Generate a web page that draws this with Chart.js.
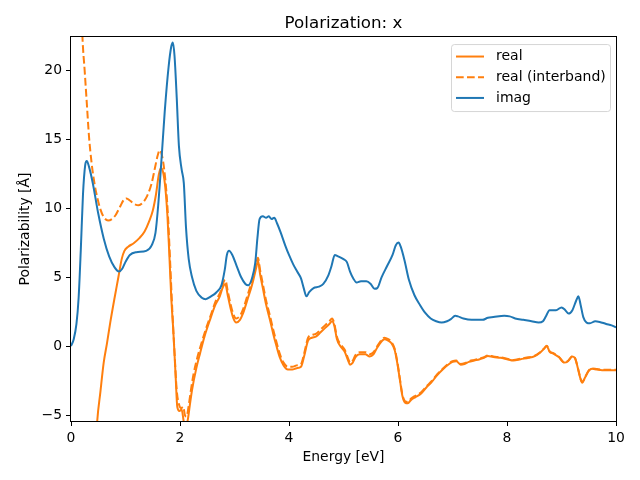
<!DOCTYPE html>
<html>
<head>
<meta charset="utf-8">
<script src="https://cdn.jsdelivr.net/npm/chart.js@4.4.0/dist/chart.umd.min.js"></script>
<style>
  html, body { margin: 0; padding: 0; background: #fff; }
  #chart { display: block; }
</style>
</head>
<body>
<canvas id="chart" width="640" height="480"></canvas>
<script>
// --- Data ---
const xTicks = [0, 2, 4, 6, 8, 10];
const yTicks = [-5, 0, 5, 10, 15, 20];

const imagX = [0.00,0.05,0.10,0.14,0.18,0.22,0.26,0.29,0.33,0.40,0.50,0.60,0.70,0.80,0.88,0.94,1.00,1.08,1.20,1.38,
  1.48,1.55,1.60,1.66,1.72,1.79,1.84,1.87,1.90,1.94,1.98,2.03,2.07,2.11,2.16,2.22,2.30,2.40,2.47,2.57,
  2.67,2.76,2.82,2.86,2.90,2.96,3.04,3.12,3.20,3.25,3.32,3.38,3.42,3.46,3.52,3.58,3.63,3.68,3.73,3.78,
  3.85,3.93,4.00,4.08,4.15,4.22,4.27,4.32,4.37,4.45,4.55,4.63,4.72,4.78,4.84,4.90,5.00,5.06,5.12,5.18,
  5.24,5.32,5.42,5.50,5.57,5.62,5.70,5.80,5.90,5.96,6.01,6.05,6.12,6.20,6.30,6.40,6.50,6.60,6.70,6.80,
  6.90,6.97,7.05,7.10,7.20,7.35,7.55,7.65,7.75,7.95,8.05,8.15,8.30,8.45,8.58,8.66,8.72,8.78,8.90,9.00,
  9.07,9.13,9.20,9.27,9.31,9.35,9.40,9.46,9.52,9.62,9.70,9.82,9.92,10.0];
const imagY = [0.0,0.5,1.6,3.5,7.0,11.0,13.1,13.4,13.0,11.8,9.6,7.8,6.5,5.7,5.4,5.6,6.1,6.6,6.8,6.9,
  7.3,8.2,10.2,13.5,17.0,20.2,21.7,22.0,21.0,18.0,14.5,12.8,11.8,8.6,6.3,5.0,4.0,3.5,3.4,3.6,
  3.9,4.4,5.5,6.6,6.9,6.6,5.8,5.0,4.5,4.4,4.9,6.0,7.8,9.2,9.4,9.3,9.4,9.2,9.3,8.9,
  8.2,7.3,6.6,5.9,5.4,4.9,4.2,3.6,3.9,4.2,4.3,4.5,5.1,5.8,6.6,6.5,6.3,6.1,5.4,4.9,
  4.6,4.7,4.7,4.5,4.15,4.2,5.0,5.8,6.6,7.3,7.5,7.2,6.2,4.8,3.7,3.0,2.4,2.0,1.8,1.7,
  1.8,1.95,2.2,2.15,2.0,1.9,1.9,2.05,2.1,2.2,2.15,2.0,1.9,1.8,1.7,1.8,2.2,2.6,2.6,2.8,
  2.6,2.35,2.6,3.3,3.6,3.0,2.1,1.7,1.65,1.8,1.75,1.6,1.5,1.35];

const realX = [0.44,0.48,0.54,0.60,0.66,0.72,0.80,0.87,0.93,0.98,1.05,1.15,1.25,1.35,1.43,1.50,1.56,1.61,1.65,1.69,
  1.73,1.77,1.80,1.84,1.88,1.92,1.95,1.99,2.03,2.07,2.10,2.14,2.18,2.22,2.30,2.37,2.45,2.55,2.65,2.73,
  2.79,2.83,2.88,2.93,2.98,3.03,3.10,3.16,3.24,3.32,3.40,3.43,3.47,3.52,3.58,3.65,3.71,3.77,3.83,3.90,
  3.98,4.06,4.14,4.22,4.28,4.35,4.42,4.50,4.58,4.66,4.74,4.79,4.83,4.88,4.94,5.02,5.08,5.12,5.17,5.22,
  5.30,5.40,5.48,5.55,5.62,5.70,5.75,5.82,5.88,5.94,5.99,6.04,6.08,6.13,6.18,6.24,6.32,6.42,6.52,6.62,
  6.72,6.82,6.92,7.00,7.07,7.15,7.22,7.30,7.40,7.50,7.58,7.65,7.75,7.88,8.00,8.12,8.25,8.40,8.50,8.60,
  8.68,8.73,8.78,8.85,8.95,9.05,9.12,9.20,9.25,9.30,9.35,9.38,9.43,9.50,9.56,9.65,9.80,10.0];
const realY = [-8.5,-5.5,-3.3,-1.2,0.2,1.7,3.5,5.0,6.3,6.9,7.2,7.45,7.8,8.3,9.0,9.8,11.0,12.4,12.9,12.6,
  11.5,9.4,7.0,3.5,0.9,-2.2,-4.4,-4.7,-4.6,-5.5,-5.8,-5.4,-4.3,-3.2,-1.6,-0.5,0.7,1.9,3.0,3.6,
  4.3,4.5,3.6,2.7,2.0,1.7,1.9,2.4,3.4,4.4,5.7,6.2,5.2,4.2,3.0,1.9,0.9,0.0,-0.8,-1.4,
  -1.7,-1.7,-1.6,-1.5,-0.7,0.4,0.6,0.7,1.0,1.3,1.6,1.8,1.5,0.5,0.0,-0.4,-1.0,-1.35,-1.2,-0.8,
  -0.6,-0.6,-0.75,-0.6,-0.1,0.35,0.5,0.4,0.2,-0.3,-1.3,-2.6,-3.6,-4.1,-4.15,-3.9,-3.7,-3.45,-3.0,-2.6,
  -2.1,-1.7,-1.35,-1.15,-1.1,-1.35,-1.3,-1.15,-1.05,-0.95,-0.85,-0.72,-0.8,-0.85,-0.95,-1.05,-0.95,-0.85,-0.75,-0.5,
  -0.2,0.0,-0.4,-0.55,-0.8,-1.2,-1.1,-0.75,-0.9,-1.6,-2.4,-2.65,-2.3,-1.8,-1.65,-1.7,-1.75,-1.75];

const interX = [0.19,0.21,0.25,0.29,0.33,0.38,0.43,0.48,0.54,0.60,0.68,0.75,0.82,0.90,0.97,1.02,1.08,1.16,1.24,1.32,
  1.40,1.48,1.54,1.59,1.63,1.67,1.71,1.75,1.78,1.82,1.86,1.90,1.94,1.98,2.02,2.06,2.09,2.12,2.16,2.20,
  2.25,2.32,2.40,2.48,2.57,2.66,2.74,2.79,2.83,2.88,2.93,2.98,3.03,3.10,3.16,3.24,3.32,3.40,3.43,3.47,
  3.52,3.58,3.65,3.71,3.77,3.83,3.90,3.98,4.06,4.14,4.22,4.28,4.35,4.42,4.50,4.58,4.66,4.74,4.79,4.83,
  4.88,4.94,5.02,5.08,5.12,5.17,5.22,5.30,5.40,5.48,5.55,5.62,5.70,5.75,5.82,5.88,5.94,5.99,6.04,6.08,
  6.13,6.18,6.24,6.32,6.42,6.52,6.62,6.72,6.82,6.92,7.00,7.07,7.15,7.22,7.30,7.40,7.50,7.58,7.65,7.75,
  7.88,8.00,8.12,8.25,8.40,8.50,8.60,8.68,8.73,8.78,8.85,8.95,9.05,9.12,9.20,9.25,9.30,9.35,9.38,9.43,
  9.50,9.56,9.65,9.80,10.0];
const interY = [25.0,22.4,20.0,17.6,15.2,13.2,11.8,10.8,9.9,9.35,9.1,9.2,9.5,10.1,10.6,10.7,10.55,10.3,10.2,10.4,
  10.9,11.8,12.9,13.8,14.2,13.8,12.8,11.2,9.4,6.0,2.5,-0.5,-3.2,-4.2,-4.5,-4.4,-5.0,-5.1,-4.3,-3.2,
  -2.0,-0.8,0.3,1.3,2.3,3.3,3.9,4.55,4.8,3.9,3.0,2.3,2.0,2.2,2.7,3.7,4.7,6.0,6.4,5.5,
  4.5,3.3,2.2,1.2,0.3,-0.55,-1.2,-1.5,-1.5,-1.4,-1.3,-0.5,0.6,0.8,0.9,1.2,1.5,1.8,2.0,1.65,
  0.65,0.15,-0.25,-0.85,-1.2,-1.05,-0.65,-0.45,-0.45,-0.6,-0.45,0.0,0.45,0.6,0.5,0.3,-0.2,-1.2,-2.5,-3.5,
  -4.0,-4.05,-3.8,-3.6,-3.37,-2.93,-2.53,-2.04,-1.65,-1.3,-1.1,-1.05,-1.3,-1.25,-1.1,-1.0,-0.9,-0.8,-0.68,-0.76,
  -0.81,-0.91,-1.01,-0.91,-0.81,-0.72,-0.47,-0.17,0.03,-0.37,-0.52,-0.77,-1.17,-1.07,-0.72,-0.87,-1.57,-2.37,-2.62,-2.27,
  -1.77,-1.62,-1.67,-1.72,-1.72];

const ORANGE = "#ff7f0e";
const BLUE = "#1f77b4";
const FONT = "'DejaVu Sans', sans-serif";

const toPoints = (xs, ys) => xs.map((x, i) => ({ x: x, y: ys[i] }));
// matplotlib writes negatives with a real minus sign
const tickText = (v) => String(v).replace("-", "\u2212");

// --- Plugins ---
// centre the title over the axes instead of the whole canvas
const titleOverAxes = {
  id: "titleOverAxes",
  afterLayout(chart) {
    const t = chart.titleBlock, a = chart.chartArea;
    if (!t) return;
    t.left = a.left;
    t.right = a.right;
    t.width = a.right - a.left;
  }
};

// box round the axes, like matplotlib spines
const frame = {
  id: "frame",
  afterDatasetsDraw(chart) {
    const a = chart.chartArea, c = chart.ctx;
    c.save();
    c.strokeStyle = "#000";
    c.lineWidth = 1;
    c.strokeRect(Math.round(a.left) - 0.5, Math.round(a.top) - 0.5,
      Math.round(a.right - a.left) + 1, Math.round(a.bottom - a.top) + 1);
    c.restore();
  }
};

// legend drawn inside the axes, top right
const innerLegend = {
  id: "innerLegend",
  afterDraw(chart) {
    const c = chart.ctx, a = chart.chartArea;
    const items = [
      { label: "real", color: ORANGE, dash: [] },
      { label: "real (interband)", color: ORANGE, dash: [7.7, 3.3] },
      { label: "imag", color: BLUE, dash: [] }
    ];
    const w = 159, h = 67;
    const x0 = a.right - 6 - w, y0 = a.top + 7;
    c.save();
    c.beginPath();
    c.roundRect(x0 + 0.5, y0 + 0.5, w, h, 3);
    c.fillStyle = "rgba(255,255,255,0.8)";
    c.fill();
    c.strokeStyle = "rgba(204,204,204,0.8)";
    c.lineWidth = 1;
    c.stroke();
    c.font = "14px " + FONT;
    c.textBaseline = "middle";
    c.fillStyle = "#000";
    items.forEach((it, i) => {
      const y = y0 + 12.5 + i * 20.7;
      c.beginPath();
      c.setLineDash(it.dash);
      c.strokeStyle = it.color;
      c.lineWidth = 2;
      c.moveTo(x0 + 5, y);
      c.lineTo(x0 + 33, y);
      c.stroke();
      c.setLineDash([]);
      c.fillText(it.label, x0 + 45, y);
    });
    c.restore();
  }
};

const lineBase = {
  borderWidth: 2,
  pointRadius: 0,
  fill: false,
  cubicInterpolationMode: "monotone",
  clip: 0
};

new Chart(document.getElementById("chart"), {
  type: "line",
  data: {
    datasets: [
      Object.assign({ label: "real", data: toPoints(realX, realY), borderColor: ORANGE, order: 3 }, lineBase),
      Object.assign({ label: "real (interband)", data: toPoints(interX, interY), borderColor: ORANGE,
        borderDash: [7.7, 3.3], order: 2 }, lineBase),
      Object.assign({ label: "imag", data: toPoints(imagX, imagY), borderColor: BLUE, order: 1 }, lineBase)
    ]
  },
  options: {
    responsive: false,
    animation: false,
    devicePixelRatio: 1,
    layout: { padding: { left: 0, right: 24, top: 0, bottom: 0 } },
    plugins: {
      legend: { display: false },
      tooltip: { enabled: false },
      title: {
        display: true,
        text: "Polarization: x",
        color: "#000",
        font: { family: FONT, size: 16.7, weight: "normal" },
        padding: { top: 14, bottom: 3 }
      }
    },
    scales: {
      x: {
        type: "linear",
        min: 0,
        max: 10,
        afterFit: (s) => { s.height = 59; },
        afterBuildTicks: (s) => { s.ticks = xTicks.map(v => ({ value: v })); },
        border: { display: false },
        grid: { drawOnChartArea: false, drawTicks: true, tickLength: 5, color: "#000", lineWidth: 1 },
        ticks: { color: "#000", font: { family: FONT, size: 13.9 }, padding: 4, maxRotation: 0, callback: tickText },
        title: { display: true, text: "Energy [eV]", color: "#000",
          font: { family: FONT, size: 13.9 }, padding: { top: 0, bottom: 14 } }
      },
      y: {
        type: "linear",
        min: -5.43,
        max: 22.39,
        afterFit: (s) => { s.width = 71; },
        afterBuildTicks: (s) => { s.ticks = yTicks.map(v => ({ value: v })); },
        border: { display: false },
        grid: { drawOnChartArea: false, drawTicks: true, tickLength: 5, color: "#000", lineWidth: 1 },
        ticks: { color: "#000", font: { family: FONT, size: 13.9 }, padding: 4, callback: tickText },
        title: { display: true, text: "Polarizability [Å]", color: "#000",
          font: { family: FONT, size: 13.9 }, padding: { top: 17, bottom: 0 } }
      }
    }
  },
  plugins: [titleOverAxes, frame, innerLegend]
});
</script>
</body>
</html>
